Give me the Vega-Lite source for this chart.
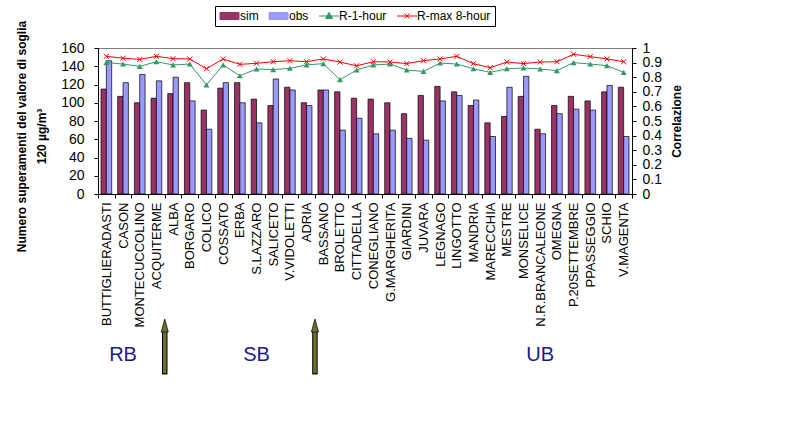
{
  "$schema": "https://vega.github.io/schema/vega-lite/v6.json",
  "background": "white",
  "padding": {"left": 15, "top": 5, "right": 5, "bottom": 5},
  "datasets": {
    "stations": [
      {"station": "BUTTIGLIERADASTI", "sim": 115, "obs": 146, "R-1-hour": 0.900, "R-max 8-hour": 0.943},
      {"station": "CASON", "sim": 107, "obs": 122, "R-1-hour": 0.890, "R-max 8-hour": 0.930},
      {"station": "MONTECUCCOLINO", "sim": 100, "obs": 131, "R-1-hour": 0.874, "R-max 8-hour": 0.922},
      {"station": "ACQUITERME", "sim": 105, "obs": 124, "R-1-hour": 0.906, "R-max 8-hour": 0.943},
      {"station": "ALBA", "sim": 110, "obs": 128, "R-1-hour": 0.884, "R-max 8-hour": 0.927},
      {"station": "BORGARO", "sim": 122, "obs": 102, "R-1-hour": 0.890, "R-max 8-hour": 0.925},
      {"station": "COLICO", "sim": 92, "obs": 71, "R-1-hour": 0.747, "R-max 8-hour": 0.858},
      {"station": "COSSATO", "sim": 116, "obs": 122, "R-1-hour": 0.884, "R-max 8-hour": 0.925},
      {"station": "ERBA", "sim": 122, "obs": 100, "R-1-hour": 0.810, "R-max 8-hour": 0.888},
      {"station": "S.LAZZARO", "sim": 104, "obs": 78, "R-1-hour": 0.856, "R-max 8-hour": 0.895},
      {"station": "SALICETO", "sim": 97, "obs": 126, "R-1-hour": 0.852, "R-max 8-hour": 0.906},
      {"station": "V.VIDOLETTI", "sim": 117, "obs": 114, "R-1-hour": 0.861, "R-max 8-hour": 0.913},
      {"station": "ADRIA", "sim": 100, "obs": 97, "R-1-hour": 0.884, "R-max 8-hour": 0.906},
      {"station": "BASSANO", "sim": 114, "obs": 114, "R-1-hour": 0.893, "R-max 8-hour": 0.925},
      {"station": "BROLETTO", "sim": 112, "obs": 70, "R-1-hour": 0.783, "R-max 8-hour": 0.904},
      {"station": "CITTADELLA", "sim": 105, "obs": 83, "R-1-hour": 0.849, "R-max 8-hour": 0.878},
      {"station": "CONEGLIANO", "sim": 104, "obs": 66, "R-1-hour": 0.884, "R-max 8-hour": 0.906},
      {"station": "G.MARGHERITA", "sim": 100, "obs": 70, "R-1-hour": 0.890, "R-max 8-hour": 0.904},
      {"station": "GIARDINI", "sim": 88, "obs": 61, "R-1-hour": 0.849, "R-max 8-hour": 0.893},
      {"station": "JUVARA", "sim": 108, "obs": 59, "R-1-hour": 0.840, "R-max 8-hour": 0.913},
      {"station": "LEGNAGO", "sim": 118, "obs": 102, "R-1-hour": 0.897, "R-max 8-hour": 0.925},
      {"station": "LINGOTTO", "sim": 112, "obs": 108, "R-1-hour": 0.890, "R-max 8-hour": 0.943},
      {"station": "MANDRIA", "sim": 97, "obs": 103, "R-1-hour": 0.858, "R-max 8-hour": 0.893},
      {"station": "MARECCHIA", "sim": 78, "obs": 63, "R-1-hour": 0.833, "R-max 8-hour": 0.865},
      {"station": "MESTRE", "sim": 85, "obs": 117, "R-1-hour": 0.858, "R-max 8-hour": 0.904},
      {"station": "MONSELICE", "sim": 107, "obs": 129, "R-1-hour": 0.863, "R-max 8-hour": 0.893},
      {"station": "N.R.BRANCALEONE", "sim": 71, "obs": 66, "R-1-hour": 0.856, "R-max 8-hour": 0.904},
      {"station": "OMEGNA", "sim": 97, "obs": 88, "R-1-hour": 0.845, "R-max 8-hour": 0.906},
      {"station": "P.20SETTEMBRE", "sim": 107, "obs": 93, "R-1-hour": 0.900, "R-max 8-hour": 0.957},
      {"station": "PPASSEGGIO", "sim": 102, "obs": 92, "R-1-hour": 0.890, "R-max 8-hour": 0.941},
      {"station": "SCHIO", "sim": 112, "obs": 119, "R-1-hour": 0.879, "R-max 8-hour": 0.925},
      {"station": "V.MAGENTA", "sim": 117, "obs": 63, "R-1-hour": 0.833, "R-max 8-hour": 0.906}
    ],
    "groups": [
      {"station": "CASON", "label": "RB"},
      {"station": "S.LAZZARO", "label": "SB"},
      {"station": "N.R.BRANCALEONE", "label": "UB"}
    ],
    "arrows": [
      {"station": "ALBA"},
      {"station": "BASSANO"}
    ]
  },
  "bounds": "flush",
  "spacing": 125,
  "resolve": {"scale": {"color": "independent", "x": "independent", "y": "independent"}},
  "vconcat": [
    {
      "width": 534,
      "height": 146,
      "data": {"name": "stations"},
      "encoding": {
        "x": {
          "field": "station", "type": "nominal", "sort": null, "title": null,
          "scale": {"paddingInner": 0, "paddingOuter": 0},
          "axis": {"labelAngle": -90, "tickBand": "extent", "labelPadding": 4, "labelFontSize": 13}
        }
      },
      "layer": [
        {
          "transform": [{"fold": ["sim", "obs"], "as": ["series", "value"]}],
          "mark": {"type": "bar", "stroke": "black", "strokeWidth": 0.7},
          "encoding": {
            "xOffset": {"field": "series", "sort": ["sim", "obs"], "scale": {"paddingInner": 0, "paddingOuter": 0.56}},
            "y": {
              "field": "value", "type": "quantitative",
              "scale": {"domain": [0, 160], "nice": false},
              "axis": {
                "values": [0, 20, 40, 60, 80, 100, 120, 140, 160],
                "labelPadding": 10,
                "labelFontSize": 14,
                "labelOverlap": false,
                "title": ["Numero superamenti del valore di soglia", "120 µg/m³"],
                "titleFontSize": 12,
                "titleLineHeight": 20,
                "titlePadding": 12,
                "titleY": 88
              }
            },
            "color": {
              "field": "series", "type": "nominal",
              "scale": {"domain": ["sim", "obs", "R-1-hour", "R-max 8-hour"], "range": ["#993366", "#9999FF", "#339966", "#FF0000"]},
              "legend": {
                "orient": "none", "legendX": 117, "legendY": -42,
                "direction": "horizontal", "title": null,
                "symbolSize": 100, "labelOffset": 9, "columnPadding": 8, "padding": 4,
                "symbolStrokeWidth": 1, "symbolOpacity": 1,
                "symbolType": {"expr": "datum.value === 'sim' || datum.value === 'obs' ? 'M-1,-0.7H2.8V0.7H-1Z' : (datum.value === 'R-1-hour' ? 'M-1,0H3M1,-0.7L1.7,0.5H0.3Z' : 'M-1,0H3M0.5,-0.5L1.5,0.5M0.5,0.5L1.5,-0.5')"},
                "strokeColor": "black", "fillColor": "white",
                "labelFontSize": 12, "labelColor": "black"
              }
            }
          }
        },
        {
          "transform": [{"fold": ["R-1-hour", "R-max 8-hour"], "as": ["series", "r"]}],
          "encoding": {
            "y": {
              "field": "r", "type": "quantitative",
              "scale": {"domain": [0, 1], "nice": false},
              "axis": {
                "orient": "right",
                "values": [0, 0.1, 0.2, 0.3, 0.4, 0.5, 0.6, 0.7, 0.8, 0.9, 1],
                "format": ".1~f",
                "labelPadding": 6,
                "labelFontSize": 14,
                "labelOverlap": false,
                "labelBound": false,
                "title": "Correlazione",
                "titleFontSize": 12,
                "titleAngle": 270,
                "titleBaseline": "top",
                "titlePadding": 10
              }
            }
          },
          "layer": [
            {
              "mark": {"type": "line", "strokeWidth": 1},
              "encoding": {
                "color": {"field": "series", "type": "nominal"}
              }
            },
            {
              "transform": [{"filter": "datum.series === 'R-1-hour'"}],
              "mark": {"type": "point", "shape": "triangle-up", "filled": true, "size": 35, "color": "#339966", "opacity": 1}
            },
            {
              "transform": [{"filter": "datum.series === 'R-max 8-hour'"}],
              "mark": {"type": "point", "shape": "M-1,-1L1,1M-1,1L1,-1", "filled": false, "size": 25, "color": "#FF0000", "strokeWidth": 1, "opacity": 1}
            }
          ]
        }
      ],
      "resolve": {"scale": {"y": "independent"}}
    },
    {
      "width": 534,
      "height": 56,
      "view": {"stroke": null},
      "layer": [
        {
          "data": {"name": "arrows"},
          "mark": {"type": "rule", "color": "black", "strokeWidth": 5.5},
          "encoding": {
            "x": {"field": "station", "type": "nominal", "bandPosition": 0, "title": null,
              "scale": {"domain": ["BUTTIGLIERADASTI","CASON","MONTECUCCOLINO","ACQUITERME","ALBA","BORGARO","COLICO","COSSATO","ERBA","S.LAZZARO","SALICETO","V.VIDOLETTI","ADRIA","BASSANO","BROLETTO","CITTADELLA","CONEGLIANO","G.MARGHERITA","GIARDINI","JUVARA","LEGNAGO","LINGOTTO","MANDRIA","MARECCHIA","MESTRE","MONSELICE","N.R.BRANCALEONE","OMEGNA","P.20SETTEMBRE","PPASSEGGIO","SCHIO","V.MAGENTA"], "paddingInner": 0, "paddingOuter": 0},
              "axis": null},
            "y": {"datum": 0.01, "type": "quantitative", "scale": {"domain": [0, 1], "nice": false}, "axis": null},
            "y2": {"datum": 0.8}
          }
        },
        {
          "data": {"name": "arrows"},
          "mark": {"type": "rule", "color": "#6e6e2e", "strokeWidth": 3.5},
          "encoding": {
            "x": {"field": "station", "type": "nominal", "bandPosition": 0, "title": null},
            "y": {"datum": 0.03, "type": "quantitative"},
            "y2": {"datum": 0.8}
          }
        },
        {
          "data": {"name": "arrows"},
          "mark": {"type": "point", "shape": "M0,-1L0.55,1H-0.55Z", "filled": true, "size": 169, "color": "#6e6e2e", "stroke": "black", "strokeWidth": 0.7, "opacity": 1},
          "encoding": {
            "x": {"field": "station", "type": "nominal", "bandPosition": 0, "title": null},
            "y": {"datum": 0.884, "type": "quantitative"}
          }
        },
        {
          "data": {"name": "groups"},
          "mark": {"type": "text", "fontSize": 20, "color": "#1a1a8f", "baseline": "middle", "align": "center"},
          "encoding": {
            "x": {"field": "station", "type": "nominal", "title": null},
            "y": {"datum": 0.36, "type": "quantitative"},
            "text": {"field": "label"}
          }
        }
      ]
    }
  ],
  "config": {
    "font": "Liberation Sans",
    "view": {"stroke": "#808080", "strokeWidth": 1},
    "axis": {
      "domainColor": "black", "tickColor": "black", "labelColor": "black", "titleColor": "black",
      "labelFont": "Liberation Sans", "labelFontSize": 13,
      "titleFont": "Liberation Sans", "titleFontSize": 11, "titleFontWeight": "bold",
      "grid": false, "tickSize": 4, "domainWidth": 1, "tickWidth": 1
    },
    "legend": {"labelFont": "Liberation Sans"}
  }
}
